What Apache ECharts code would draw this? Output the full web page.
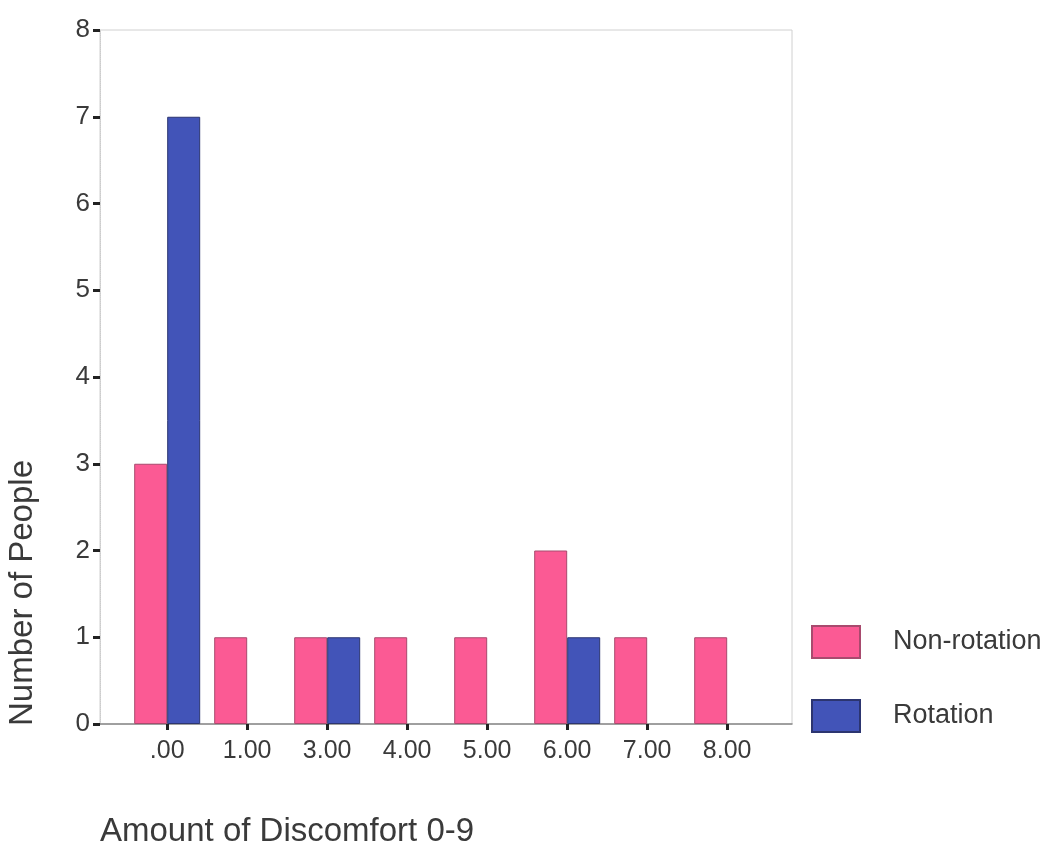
<!DOCTYPE html>
<html>
<head>
<meta charset="utf-8">
<script src="https://cdn.jsdelivr.net/npm/echarts@6/dist/echarts.min.js"></script>
<style>html,body{margin:0;padding:0;background:#fff}#c{width:1047px;height:844px}</style>
</head>
<body>
<div id="c"></div>
<script>
const categories = ['.00', '1.00', '3.00', '4.00', '5.00', '6.00', '7.00', '8.00'];
const nonRotation = [3, 1, 1, 1, 1, 2, 1, 1];
const rotation = [7, 0, 1, 0, 0, 1, 0, 0];
const yTicks = [0, 1, 2, 3, 4, 5, 6, 7, 8];

const idx = categories.map((_, i) => i);
const chart = echarts.init(document.getElementById('c'));
const font = 'Liberation Sans, Arial, sans-serif';
const toData = arr => idx.map(i => arr[i] ? [i, arr[i]] : [i, null]);
chart.setOption({
  animation: false,
  title: {
    text: 'Amount of Discomfort 0-9',
    left: 95, top: 810,
    textStyle: { fontFamily: font, fontSize: 33, fontWeight: 'normal', color: '#3a3a3a' }
  },
  graphic: [{
    type: 'text', left: 6, top: 460, rotation: Math.PI / 2,
    style: { text: 'Number of People', font: '33px ' + font, fill: '#3a3a3a' }
  }],
  legend: {
    orient: 'vertical', left: 806, top: 620, icon: 'rect',
    itemWidth: 48, itemHeight: 32, itemGap: 40,
    textStyle: { fontFamily: font, fontSize: 27, color: '#3a3a3a', padding: [0, 0, 0, 28] },
    data: ['Non-rotation', 'Rotation']
  },
  grid: { left: 100, right: 255, top: 30, bottom: 120, show: true, borderColor: '#d0d0d0', borderWidth: 1 },
  xAxis: {
    type: 'value', min: -0.84, max: 7.81,
    splitLine: { show: false },
    axisLine: { lineStyle: { color: '#888', width: 1.5 } },
    axisTick: { customValues: idx, length: 6, lineStyle: { color: '#222', width: 3 } },
    axisLabel: {
      customValues: idx, margin: 15,
      formatter: v => categories[Math.round(v)],
      fontFamily: font, fontSize: 25, color: '#3a3a3a'
    }
  },
  yAxis: {
    type: 'value', min: 0, max: 8, interval: 1,
    splitLine: { show: false },
    axisLine: { show: true, onZero: false, lineStyle: { color: '#ccc', type: 'dotted' } },
    axisTick: { show: true, length: 7, lineStyle: { color: '#222', width: 3 } },
    axisLabel: { fontFamily: font, fontSize: 26, color: '#3a3a3a', margin: 10,
      formatter: v => yTicks.includes(v) ? String(v) : '' }
  },
  series: [
    {
      name: 'Non-rotation', type: 'bar', barWidth: 33, barGap: '0%',
      data: toData(nonRotation),
      itemStyle: { color: '#fb5a94', borderColor: '#a84a6e', borderWidth: 1 }
    },
    {
      name: 'Rotation', type: 'bar', barWidth: 33, barGap: '0%',
      data: toData(rotation),
      itemStyle: { color: '#4254b8', borderColor: '#2c3570', borderWidth: 1 }
    }
  ]
});
</script>
</body>
</html>
